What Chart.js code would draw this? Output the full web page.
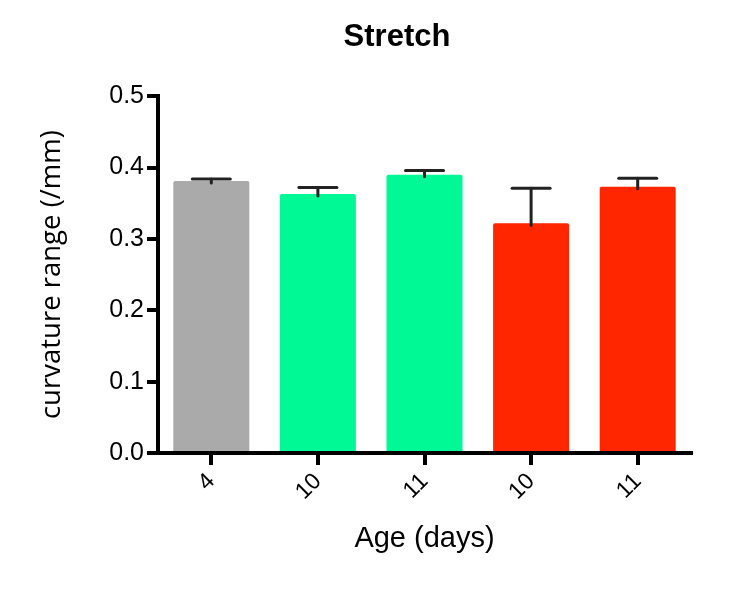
<!DOCTYPE html>
<html>
<head>
<meta charset="utf-8">
<script src="https://cdn.jsdelivr.net/npm/chart.js@4.4.1/dist/chart.umd.min.js"></script>
<style>
  html, body { margin: 0; padding: 0; background: #ffffff; }
  #wrap { width: 755px; height: 593px; }
</style>
</head>
<body>
<div id="wrap"><canvas id="c" width="755" height="593"></canvas></div>
<script>
const categories = ["4", "10", "11", "10", "11"];
const values = [0.381, 0.363, 0.390, 0.322, 0.373];
const errors = [0.003, 0.009, 0.006, 0.049, 0.012];
const barColors = ["#aaaaaa", "#00f994", "#00f994", "#ff2600", "#ff2600"];
const yTicks = [0.0, 0.1, 0.2, 0.3, 0.4, 0.5];

const errorBarPlugin = {
  id: 'errorBars',
  afterDatasetsDraw(chart) {
    const ctx = chart.ctx;
    const meta = chart.getDatasetMeta(0);
    const ys = chart.scales.y;
    ctx.save();
    ctx.strokeStyle = '#222222';
    ctx.lineWidth = 3;
    ctx.lineCap = 'round';
    meta.data.forEach((bar, i) => {
      const x = bar.x;
      const yTop = ys.getPixelForValue(values[i] + errors[i]);
      const yBase = ys.getPixelForValue(values[i]);
      ctx.beginPath();
      ctx.moveTo(x, yBase + 2);
      ctx.lineTo(x, yTop);
      ctx.stroke();
      ctx.beginPath();
      ctx.moveTo(x - 19, yTop);
      ctx.lineTo(x + 19, yTop);
      ctx.stroke();
    });
    ctx.restore();
  }
};

new Chart(document.getElementById('c'), {
  type: 'bar',
  data: {
    labels: categories,
    datasets: [{
      data: values,
      backgroundColor: barColors,
      borderWidth: 0,
      borderRadius: 2,
      categoryPercentage: 1.0,
      barPercentage: 0.713
    }]
  },
  options: {
    responsive: false,
    animation: false,
    devicePixelRatio: 1,
    layout: { padding: { left: 103, right: 64, top: 0, bottom: 0 } },
    plugins: {
      legend: { display: false },
      tooltip: { enabled: false },
      title: {
        display: true,
        text: 'Stretch',
        color: '#000000',
        font: { family: 'Liberation Sans', size: 31, weight: 'bold', lineHeight: 1.2 },
        padding: { top: 19, bottom: 40 }
      }
    },
    scales: {
      x: {
        z: 1,
        offset: true,
        afterFit(scale) { scale.height = 140; },
        grid: {
          offset: false,
          drawOnChartArea: false,
          drawTicks: true,
          tickLength: 12,
          lineWidth: 4,
          color: '#000000'
        },
        border: { display: true, color: '#000000', width: 4 },
        ticks: {
          color: '#000000',
          font: { family: 'Liberation Sans', size: 23 },
          minRotation: 45,
          maxRotation: 45,
          padding: 3
        },
        title: {
          display: true,
          text: 'Age (days)',
          color: '#000000',
          font: { family: 'Liberation Sans', size: 29, lineHeight: 1.2 },
          padding: { top: 0, bottom: 37 }
        }
      },
      y: {
        z: 1,
        min: 0,
        max: 0.5,
        afterFit(scale) { scale.width = 55; },
        afterBuildTicks(scale) { scale.ticks = yTicks.map(v => ({ value: v })); },
        grid: {
          drawOnChartArea: false,
          drawTicks: true,
          tickLength: 11,
          lineWidth: 4,
          color: '#000000'
        },
        border: { display: true, color: '#000000', width: 4 },
        ticks: {
          color: '#000000',
          font: { family: 'Liberation Sans', size: 25 },
          padding: 3,
          callback: (v) => Number(v).toFixed(1)
        },
        title: {
          display: true,
          text: 'curvature range (/mm)',
          color: '#000000',
          font: { family: 'Open Sans', size: 27.5, lineHeight: 1.2 },
          padding: { top: -67, bottom: 0 }
        }
      }
    }
  },
  plugins: [errorBarPlugin]
});
</script>
</body>
</html>
